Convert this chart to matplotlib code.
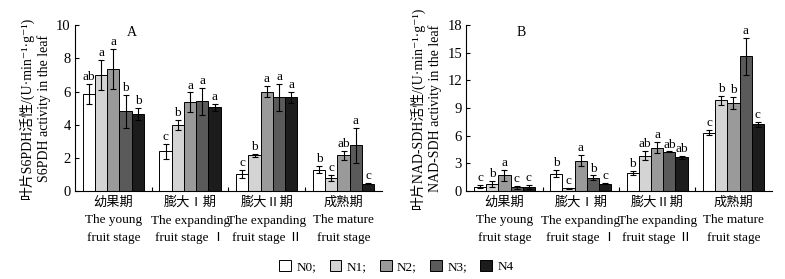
import numpy as np
import matplotlib
matplotlib.use('Agg')
import matplotlib.pyplot as plt
from matplotlib.patches import Patch

plt.rcParams['font.family'] = ['Liberation Serif', 'Noto Sans CJK SC', 'DejaVu Serif']
plt.rcParams['font.size'] = 9

stages = ['幼果期\nThe young\nfruit stage',
          '膨大Ⅰ期\nThe expanding\nfruit stage Ⅰ',
          '膨大Ⅱ期\nThe expanding\nfruit stage Ⅱ',
          '成熟期\nThe mature\nfruit stage']
treatments = ['N0', 'N1', 'N2', 'N3', 'N4']
colors = ['#ffffff', '#d4d4d4', '#9a9a9a', '#5a5a5a', '#1c1c1c']

# S6PDH (panel A), rows = stage, cols = N0..N4
s6pdh = [[5.85, 7.0, 7.35, 4.8, 4.65],
         [2.4, 4.0, 5.35, 5.4, 5.05],
         [1.05, 2.15, 6.0, 5.65, 5.65],
         [1.3, 0.8, 2.15, 2.75, 0.45]]
s6pdh_err = [[0.6, 0.9, 1.2, 1.0, 0.35],
             [0.45, 0.3, 0.6, 0.8, 0.2],
             [0.25, 0.08, 0.35, 0.8, 0.35],
             [0.2, 0.2, 0.25, 1.05, 0.03]]
s6pdh_sig = [['ab', 'a', 'a', 'b', 'b'],
             ['c', 'b', 'a', 'a', 'a'],
             ['c', 'b', 'a', 'a', 'a'],
             ['b', 'c', 'ab', 'a', 'c']]

# NAD-SDH (panel B)
nadsdh = [[0.5, 0.8, 1.7, 0.4, 0.45],
          [1.9, 0.3, 3.3, 1.45, 0.8],
          [1.95, 3.85, 4.7, 4.25, 3.65],
          [6.35, 9.85, 9.55, 14.6, 7.25]]
nadsdh_err = [[0.2, 0.3, 0.6, 0.15, 0.2],
              [0.4, 0.05, 0.6, 0.25, 0.05],
              [0.2, 0.5, 0.6, 0.05, 0.2],
              [0.25, 0.5, 0.65, 2.0, 0.25]]
nadsdh_sig = [['c', 'b', 'a', 'c', 'c'],
              ['b', 'c', 'a', 'b', 'c'],
              ['b', 'ab', 'a', 'ab', 'ab'],
              ['c', 'b', 'b', 'a', 'c']]

fig = plt.figure(figsize=(7.85, 2.79), dpi=100)
axA = fig.add_axes([0.0955, 0.315, 0.391, 0.595])
axB = fig.add_axes([0.594, 0.315, 0.389, 0.595])

bw = 0.16


def draw(ax, vals, errs, sigs, ymax, ystep, letter, lx, ly, ylab):
    vals = np.array(vals)
    errs = np.array(errs)
    for j in range(5):
        x = np.arange(4) + 0.5 + (j - 2) * bw
        ax.bar(x, vals[:, j], bw, color=colors[j], edgecolor='black', linewidth=0.7,
               yerr=errs[:, j], capsize=2, error_kw={'elinewidth': 0.8, 'capthick': 0.8})
        for i in range(4):
            ax.text(x[i], vals[i, j] + errs[i, j] + ymax * 0.005, sigs[i][j],
                    ha='center', va='bottom', fontsize=9.5)
    ax.set_xlim(0, 4)
    ax.set_ylim(0, ymax)
    ax.set_yticks(np.arange(0, ymax + 0.01, ystep))
    ax.set_xticks([1, 2, 3])
    ax.set_xticklabels([])
    ax.set_xticks([0.5, 1.5, 2.5, 3.5], minor=True)
    ax.set_xticklabels(stages, minor=True, fontsize=9.5, linespacing=1.6)
    ax.tick_params(axis='x', which='minor', length=0, pad=4)
    ax.tick_params(axis='x', which='major', direction='in', length=3)
    ax.tick_params(axis='y', direction='in', length=3, labelsize=10.5, pad=3)
    ax.spines['top'].set_visible(False)
    ax.spines['right'].set_visible(False)
    ax.text(lx, ly, letter, fontsize=10)
    ax.set_ylabel(ylab, fontsize=10, linespacing=1.3, labelpad=4)


draw(axA, s6pdh, s6pdh_err, s6pdh_sig, 10, 2, 'A', 0.68, 9.35,
     '叶片S6PDH活性/(U·min⁻¹·g⁻¹)\nS6PDH activity in the leaf')
draw(axB, nadsdh, nadsdh_err, nadsdh_sig, 18, 3, 'B', 0.66, 16.85,
     '叶片NAD-SDH活性/(U·min⁻¹·g⁻¹)\nNAD-SDH activity in the leaf')

handles = [Patch(facecolor=c, edgecolor='black', linewidth=0.7) for c in colors]
labels = ['N0;', 'N1;', 'N2;', 'N3;', 'N4']
fig.legend(handles, labels, loc='center', bbox_to_anchor=(0.505, 0.045), ncol=5,
           frameon=False, fontsize=9.5, handlelength=0.9, handleheight=0.9,
           handletextpad=0.4, columnspacing=1.0)

fig.savefig('out.png', dpi=100)
